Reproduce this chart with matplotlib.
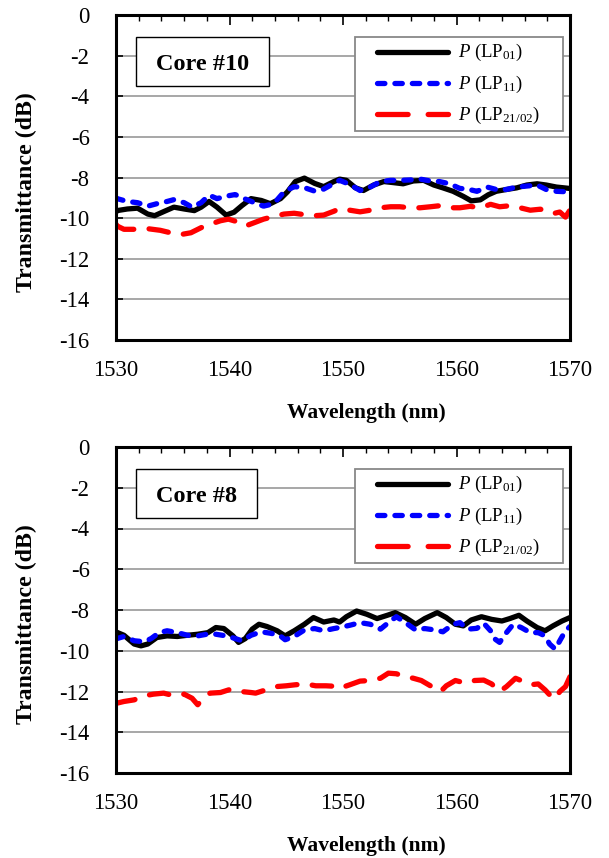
import matplotlib
matplotlib.use("Agg")
import matplotlib.pyplot as plt
from matplotlib.lines import Line2D
from matplotlib.patches import Rectangle
from matplotlib.ticker import MultipleLocator

plt.rcParams['font.family'] = ['Liberation Serif', 'DejaVu Serif']
plt.rcParams['mathtext.fontset'] = 'custom'
plt.rcParams['mathtext.rm'] = 'Liberation Serif'
plt.rcParams['mathtext.it'] = 'Liberation Serif:italic'
plt.rcParams['mathtext.bf'] = 'Liberation Serif:bold'

# ---------------- Data: Core #10 (top) ----------------
c10_lp01_wl = [1530.0, 1530.1, 1531.0, 1531.9, 1532.8, 1533.4, 1534.2, 1535.1, 1536.0, 1536.9, 1537.5,
               1538.2, 1538.9, 1539.7, 1540.4, 1541.1, 1541.9, 1542.8, 1543.6, 1544.5, 1545.1, 1545.8,
               1546.6, 1547.5, 1548.3, 1549.2, 1549.7, 1550.3, 1551.1, 1551.8, 1552.7, 1553.6, 1554.4,
               1555.3, 1556.2, 1557.1, 1558.0, 1558.8, 1559.7, 1560.6, 1561.3, 1562.1, 1562.8, 1563.5,
               1564.4, 1565.3, 1566.2, 1567.1, 1567.9, 1568.8, 1570.0]
c10_lp01 = [-9.70, -9.63, -9.55, -9.51, -9.80, -9.88, -9.68, -9.46, -9.55, -9.63, -9.46,
            -9.18, -9.46, -9.85, -9.71, -9.38, -9.04, -9.13, -9.29, -9.04, -8.71, -8.20,
            -8.03, -8.29, -8.45, -8.20, -8.08, -8.14, -8.51, -8.64, -8.37, -8.20, -8.25,
            -8.31, -8.17, -8.14, -8.37, -8.51, -8.68, -8.93, -9.15, -9.10, -8.85, -8.68,
            -8.59, -8.51, -8.37, -8.31, -8.37, -8.47, -8.54]

c10_lp11_wl = [1530.0, 1530.1, 1531.0, 1531.9, 1532.8, 1533.6, 1534.5, 1535.1, 1536.0, 1536.7, 1537.5,
               1538.2, 1538.9, 1539.8, 1540.5, 1541.3, 1542.2, 1543.0, 1543.9, 1544.8, 1545.7, 1546.6,
               1547.5, 1548.3, 1549.2, 1549.7, 1550.6, 1551.5, 1552.4, 1553.3, 1554.2, 1555.0, 1555.9,
               1556.8, 1557.7, 1558.5, 1559.4, 1560.3, 1560.9, 1561.8, 1562.7, 1563.5, 1564.4, 1565.3,
               1566.2, 1567.1, 1567.9, 1568.8, 1570.0]
c10_lp11 = [-9.00, -9.04, -9.18, -9.24, -9.41, -9.29, -9.18, -9.09, -9.24, -9.46, -9.24,
            -8.87, -9.04, -8.91, -8.84, -9.04, -9.24, -9.41, -9.29, -8.71, -8.45, -8.50,
            -8.67, -8.57, -8.29, -8.14, -8.34, -8.64, -8.47, -8.20, -8.14, -8.14, -8.12,
            -8.08, -8.17, -8.20, -8.31, -8.54, -8.56, -8.68, -8.47, -8.59, -8.59, -8.47,
            -8.42, -8.37, -8.59, -8.68, -8.71]

c10_lp21_wl = [1530.0, 1530.1, 1530.7, 1531.6, 1532.8, 1533.9, 1534.8, 1535.7, 1536.6, 1537.5, 1538.3,
               1539.2, 1539.9, 1540.7, 1541.4, 1542.2, 1543.0, 1543.9, 1544.8, 1545.7, 1546.6, 1547.5,
               1548.3, 1549.2, 1549.7, 1550.6, 1551.5, 1552.4, 1553.3, 1554.2, 1555.0, 1555.9, 1556.8,
               1557.7, 1558.5, 1559.4, 1560.3, 1561.2, 1562.1, 1563.0, 1563.8, 1564.7, 1565.6, 1566.5,
               1567.4, 1567.9, 1568.5, 1569.1, 1569.6, 1570.0]
c10_lp21 = [-10.30, -10.39, -10.55, -10.55, -10.52, -10.60, -10.72, -10.81, -10.72, -10.47, -10.30,
            -10.13, -10.05, -10.18, -10.39, -10.22, -10.05, -9.92, -9.80, -9.76, -9.83, -9.88,
            -9.85, -9.66, -9.53, -9.61, -9.69, -9.61, -9.49, -9.44, -9.44, -9.49, -9.49,
            -9.44, -9.39, -9.49, -9.49, -9.42, -9.49, -9.32, -9.44, -9.39, -9.49, -9.61,
            -9.56, -9.69, -9.78, -9.70, -9.95, -9.60]

# ---------------- Data: Core #8 (bottom) ----------------
c8_lp01_wl = [1530.0, 1530.1, 1530.7, 1531.6, 1532.2, 1532.8, 1533.6, 1534.5, 1535.4, 1536.3, 1537.2,
              1538.1, 1538.8, 1539.5, 1540.3, 1540.8, 1541.4, 1542.0, 1542.6, 1543.3, 1544.2, 1544.9,
              1545.7, 1546.6, 1547.4, 1548.3, 1549.2, 1549.7, 1550.3, 1551.2, 1552.1, 1553.0, 1553.9,
              1554.6, 1555.5, 1556.4, 1557.2, 1558.3, 1559.1, 1559.9, 1560.6, 1561.3, 1562.2, 1563.1,
              1564.0, 1564.7, 1565.5, 1566.2, 1567.1, 1567.8, 1568.5, 1569.3, 1570.0]
c8_lp01 = [-9.20, -9.10, -9.24, -9.67, -9.76, -9.67, -9.35, -9.27, -9.30, -9.24, -9.19,
           -9.11, -8.86, -8.91, -9.27, -9.59, -9.40, -8.94, -8.70, -8.81, -9.02, -9.27,
           -9.02, -8.70, -8.37, -8.59, -8.49, -8.59, -8.33, -8.05, -8.21, -8.42, -8.26,
           -8.13, -8.37, -8.70, -8.42, -8.13, -8.37, -8.70, -8.78, -8.49, -8.33, -8.46,
           -8.54, -8.42, -8.26, -8.54, -8.86, -9.02, -8.78, -8.54, -8.37]

c8_lp11_wl = [1530.0, 1530.1, 1530.7, 1531.6, 1532.5, 1533.1, 1533.8, 1534.5, 1535.4, 1536.3, 1537.2,
              1538.0, 1538.8, 1539.7, 1540.5, 1541.1, 1541.9, 1542.8, 1543.6, 1544.4, 1544.9, 1545.7,
              1546.6, 1547.5, 1548.3, 1549.2, 1549.7, 1550.6, 1551.5, 1552.4, 1553.3, 1554.0, 1554.7,
              1555.5, 1556.4, 1557.2, 1558.1, 1558.8, 1559.7, 1560.3, 1561.0, 1561.8, 1562.4, 1563.0,
              1563.4, 1563.8, 1564.4, 1565.0, 1565.7, 1566.5, 1567.2, 1567.8, 1568.2, 1568.7, 1569.1,
              1569.6, 1570.0]
c8_lp11 = [-9.40, -9.40, -9.30, -9.51, -9.56, -9.40, -9.11, -9.02, -9.11, -9.24, -9.27,
           -9.19, -9.19, -9.27, -9.40, -9.51, -9.24, -9.07, -9.14, -9.24, -9.46, -9.30,
           -8.98, -8.91, -9.02, -8.91, -8.86, -8.75, -8.62, -8.70, -8.94, -8.62, -8.33,
           -8.62, -8.98, -8.91, -8.98, -9.07, -8.70, -8.62, -8.94, -8.90, -8.65, -9.02,
           -9.43, -9.59, -9.11, -8.70, -8.86, -9.11, -9.11, -9.27, -9.67, -9.92, -9.51,
           -9.02, -8.81]

c8_lp21_wl = [1530.0, 1530.1, 1530.7, 1531.6, 1532.5, 1533.3, 1534.2, 1535.1, 1536.0, 1536.7, 1537.2,
              1537.8, 1538.3, 1539.2, 1540.1, 1541.0, 1541.9, 1542.3, 1543.2, 1544.1, 1545.0, 1545.8,
              1546.7, 1547.6, 1548.5, 1549.5, 1549.7, 1550.6, 1551.5, 1552.4, 1553.3, 1554.0, 1554.7,
              1555.3, 1556.2, 1556.9, 1557.7, 1558.6, 1559.1, 1559.9, 1560.8, 1561.6, 1562.4, 1563.1,
              1563.8, 1564.4, 1565.2, 1565.8, 1566.5, 1567.2, 1567.8, 1568.2, 1568.7, 1569.1, 1569.6,
              1570.0]
c8_lp21 = [-12.60, -12.57, -12.49, -12.41, -12.21, -12.13, -12.08, -12.21, -12.13, -12.33, -12.65,
           -12.24, -12.08, -12.05, -11.89, -12.00, -12.05, -12.08, -11.92, -11.76, -11.72, -11.67,
           -11.63, -11.72, -11.72, -11.75, -11.84, -11.67, -11.49, -11.46, -11.35, -11.10, -11.13,
           -11.24, -11.35, -11.46, -11.72, -12.00, -11.72, -11.46, -11.59, -11.46, -11.44, -11.63,
           -12.00, -11.76, -11.35, -11.49, -11.67, -11.63, -11.92, -12.16, -12.37, -12.00, -11.76,
           -11.27]

core_labels = ["Core #10", "Core #8"]
legend_labels = [r"$\mathit{P}\ \mathrm{(LP_{01})}$", r"$\mathit{P}\ \mathrm{(LP_{11})}$",
                 r"$\mathit{P}\ \mathrm{(LP_{21/02})}$"]
x_ticks = [1530, 1540, 1550, 1560, 1570]
y_ticks = [0, -2, -4, -6, -8, -10, -12, -14, -16]

panels = [
    (c10_lp01_wl, c10_lp01, c10_lp11_wl, c10_lp11, c10_lp21_wl, c10_lp21),
    (c8_lp01_wl, c8_lp01, c8_lp11_wl, c8_lp11, c8_lp21_wl, c8_lp21),
]

W, H = 609, 858
fig = plt.figure(figsize=(W / 100, H / 100), dpi=100)
axes_boxes = [(116, 15, 570, 340), (116, 447, 570, 773)]

LW = 3.8
styles = [dict(color='black', lw=LW, solid_capstyle='round', solid_joinstyle='round'),
          dict(color='#0000ff', lw=LW, dashes=(1.4, 1.9), dash_capstyle='round'),
          dict(color='#ff0000', lw=LW, dashes=(3.7, 2.9), dash_capstyle='round')]
leg_styles = [dict(color='black', lw=LW, solid_capstyle='round'),
              dict(color='#0000ff', lw=LW, dashes=(1.4, 1.9), dash_capstyle='round'),
              dict(color='#ff0000', lw=LW, dashes=(5.8, 3.8), dash_capstyle='round')]

core_texts = []
for (box, data, label) in zip(axes_boxes, panels, core_labels):
    x0, y0, x1, y1 = box
    aw, ah = x1 - x0, y1 - y0

    def frac(dx, dy):
        return dx / aw, 1 - dy / ah

    ax = fig.add_axes([x0 / W, 1 - y1 / H, aw / W, ah / H])
    w1, v1, w2, v2, w3, v3 = data
    ax.plot(w1, v1, **styles[0])
    ax.plot(w2, v2, **styles[1])
    ax.plot(w3, v3, **styles[2])

    ax.set_xlim(1530, 1570)
    ax.set_ylim(-16, 0)
    ax.set_xticks(x_ticks)
    ax.xaxis.set_minor_locator(MultipleLocator(2))
    ax.set_yticks(y_ticks)
    ax.set_yticklabels([str(t) for t in y_ticks])
    ax.yaxis.grid(True, color='#a0a0a0', lw=1.3)
    ax.set_axisbelow(True)
    ax.tick_params(axis='y', direction='in', labelsize=16.3, length=5, width=1.2, pad=19)
    ax.tick_params(axis='x', which='major', direction='in', labelsize=16.3, length=7, width=1.2,
                   pad=14.5, bottom=False, top=True, labelbottom=True, labeltop=False)
    ax.tick_params(axis='x', which='minor', direction='in', length=4, width=1.0,
                   bottom=False, top=True)
    for s in ax.spines.values():
        s.set_linewidth(2.2)
        s.set_color('black')

    ax.set_xlabel("Wavelength (nm)", fontsize=15.5, fontweight='bold')
    ax.xaxis.set_label_coords((366 - x0) / aw, -78 / ah)
    ax.xaxis.label.set_va('baseline')
    ax.set_ylabel("Transmittance (dB)", fontsize=17.2, fontweight='bold')
    ax.yaxis.set_label_coords((26 - x0) / aw, 1 - 177.5 / ah)
    ax.yaxis.label.set_va('center')

    # core label box
    t = ax.text(*frac(40, 47.5), label, transform=ax.transAxes, fontsize=17.5,
                fontweight='bold', ha='left', va='center_baseline', zorder=6)
    core_texts.append((ax, t))

    # legend (drawn as frame + handles + labels)
    lx0, ly0, lx1, ly1 = 239, 22, 447, 116
    fx0, fy1 = frac(lx0, ly0)
    fx1, fy0 = frac(lx1, ly1)
    ax.add_patch(Rectangle((fx0, fy0), fx1 - fx0, fy1 - fy0, transform=ax.transAxes,
                           facecolor='white', edgecolor='#888888', lw=1.3, zorder=5))
    for i, (st, lab) in enumerate(zip(leg_styles, legend_labels)):
        ry = 36.7 + 31.3 * i
        hx0, hy = frac(261, ry)
        hx1, _ = frac(332, ry)
        ax.add_line(Line2D([hx0, hx1], [hy, hy], transform=ax.transAxes, zorder=6, **st))
        ax.text(*frac(342, ry + 1), lab, transform=ax.transAxes, fontsize=13.5,
                ha='left', va='center', zorder=6)

fig.canvas.draw()
renderer = fig.canvas.get_renderer()
for ax, t in core_texts:
    bb = t.get_window_extent(renderer)
    inv = ax.transAxes.inverted()
    (bx0, _), (bx1, _) = inv.transform([(bb.x0 - 20, 0), (bb.x1 + 20, 0)])
    pos = ax.get_position()
    ah = pos.height * H
    y_top = 1 - 22 / ah
    y_bot = 1 - 71 / ah
    ax.add_patch(Rectangle((bx0, y_bot), bx1 - bx0, y_top - y_bot, transform=ax.transAxes,
                           facecolor='white', edgecolor='black', lw=1.0, zorder=5))

fig.savefig("out.png", dpi=100)
